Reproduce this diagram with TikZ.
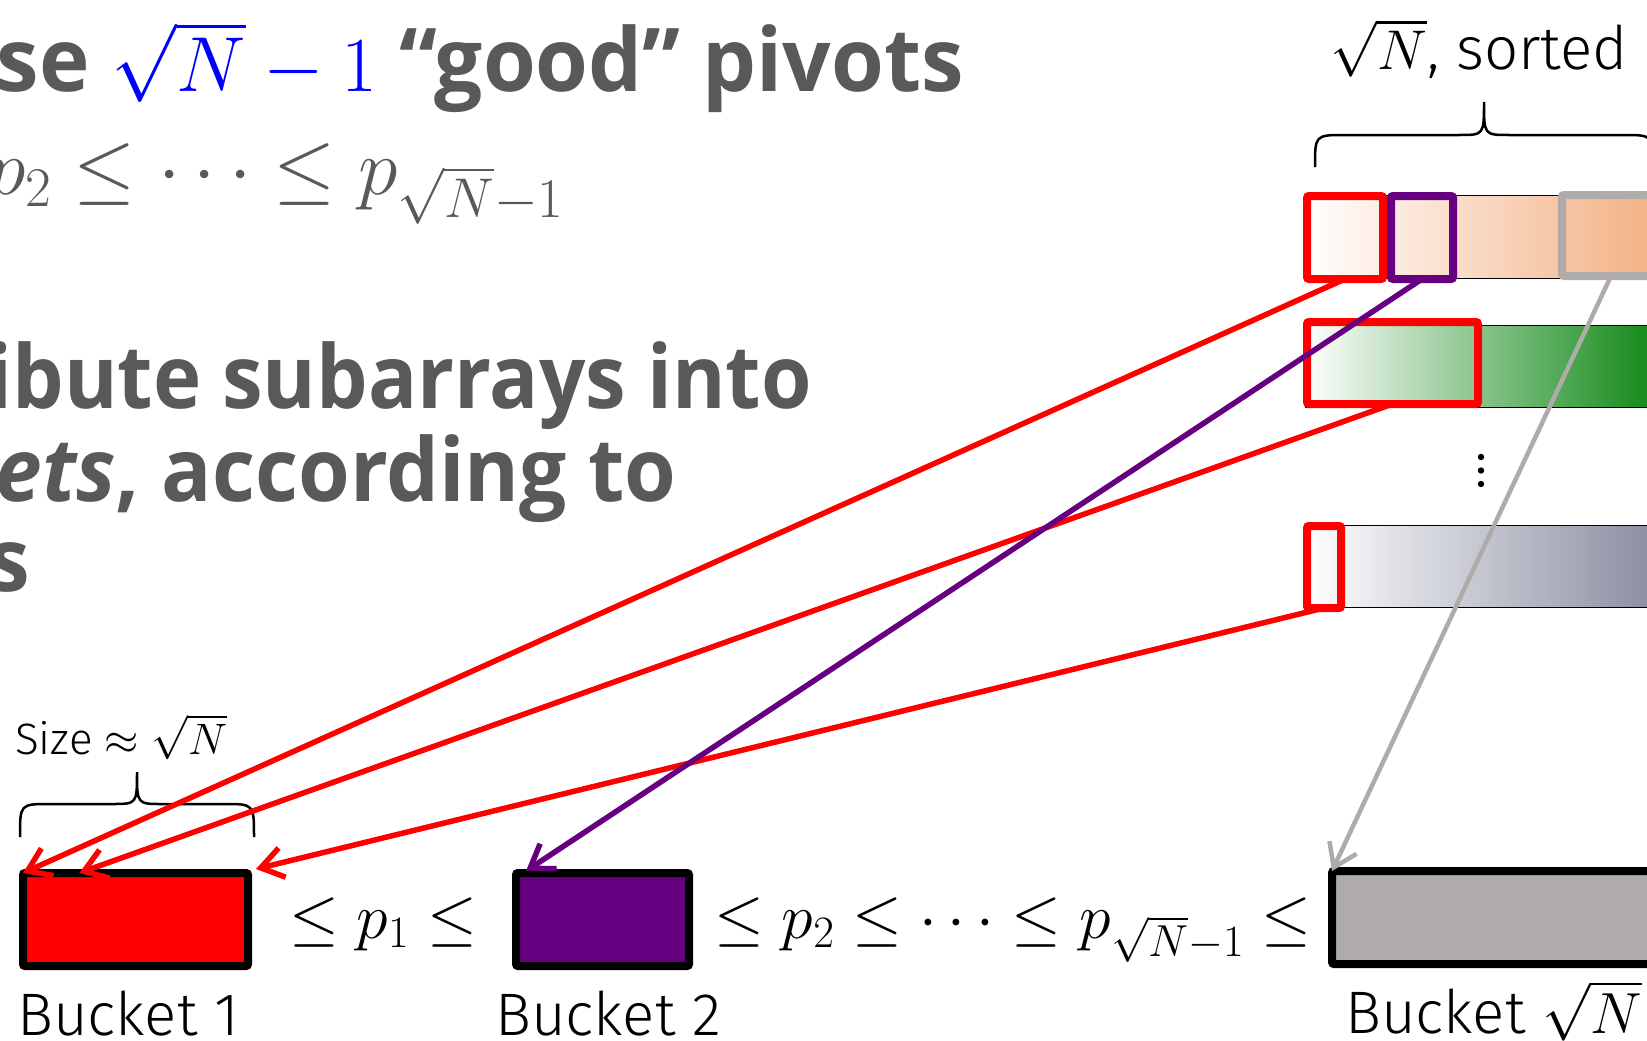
\RequirePackage{fix-cm}
\documentclass[tikz,border=0pt]{standalone}
\usepackage{fontspec}
\usetikzlibrary{arrows.meta,calc}
\newfontfamily\titlefont[FakeStretch=0.95]{Open Sans}
\newfontfamily\titlefontw[FakeStretch=0.97]{Open Sans}
\newfontfamily\titlefontn[FakeStretch=0.927]{Open Sans}
\newfontfamily\lblfont{Fira Sans Light}
\definecolor{tgray}{RGB}{89,89,89}
\definecolor{orng}{RGB}{243,175,130}
\definecolor{grn}{RGB}{14,135,20}
\definecolor{bgray}{RGB}{137,140,160}
\definecolor{purp}{RGB}{102,0,128}
\definecolor{lgray}{RGB}{175,171,171}
\begin{document}
\begin{tikzpicture}[x=1pt,y=-1pt,
  bar/.style={draw=black,line width=1pt},
  selbox/.style={draw,line width=8pt,rounded corners=2pt,inner sep=0pt,outer sep=0pt},
  bucketbox/.style={draw=black,line width=8pt,rounded corners=2pt,inner sep=0pt,outer sep=0pt,minimum height=93pt},
  arr/.style={line width=5.5pt,-{Straight Barb[length=22pt,width=30pt]}},
  brc/.style={line width=2.5pt},
  title/.style={inner sep=0pt,anchor=base east,text=tgray,font=\titlefont\bfseries\fontsize{88}{100}\selectfont},
  lbl/.style={inner sep=0pt,font=\lblfont\fontsize{60}{62}\selectfont},
  mth/.style={inner sep=0pt,anchor=base,font=\fontsize{64}{66}\selectfont},
]
\useasboundingbox (0,0) rectangle (1647,1041);
\clip (0,0) rectangle (1647,1041);

% sorted subarrays
\shade[left color=white,right color=orng] (1305,195) rectangle (1660,278);
\draw[bar] (1305,195) rectangle (1660,278);
\shade[left color=white,right color=grn] (1305,325) rectangle (1660,407);
\draw[bar] (1305,325) rectangle (1660,407);
\shade[left color=white,right color=bgray] (1305,525) rectangle (1660,607);
\draw[bar] (1305,525) rectangle (1660,607);

\fill (1481,457) circle[radius=3.2pt];
\fill (1481,470.5) circle[radius=3.2pt];
\fill (1481,484) circle[radius=3.2pt];

% selection boxes
\node[selbox,draw=red,minimum width=76pt,minimum height=83pt] (s1) at (1345,237.5) {};
\node[selbox,draw=purp,minimum width=62pt,minimum height=83pt] (s2) at (1422,237.5) {};
\node[selbox,draw=lgray,minimum width=98pt,minimum height=81pt] (s3) at (1611,235.5) {};
\node[selbox,draw=red,minimum width=171pt,minimum height=82pt] (s4) at (1392.5,363) {};
\node[selbox,draw=red,minimum width=34pt,minimum height=82pt] (s5) at (1324,567) {};

% buckets
\node[bucketbox,fill=red,minimum width=225pt] (b1) at (135.5,919.5) {};
\node[bucketbox,fill=purp,minimum width=173pt] (b2) at (602.5,919.5) {};
\node[bucketbox,fill=lgray,minimum width=388pt] (b3) at (1526,917.5) {};

% braces
\draw[brc] (1315,167) .. controls (1315,135) and (1315,135) .. (1345,135)
  -- (1459,135) .. controls (1484,135) and (1484,135) .. (1484,102)
  .. controls (1484,135) and (1484,135) .. (1509,135)
  -- (1623,135) .. controls (1653,135) and (1653,135) .. (1653,167);
\draw[brc] (20,837) .. controls (20,804) and (20,804) .. (50,804)
  -- (112,804) .. controls (137,804) and (137,804) .. (137,772)
  .. controls (137,804) and (137,804) .. (162,804)
  -- (224,804) .. controls (254,804) and (254,804) .. (254,837);

% texts
\node[title,font=\titlefontw\bfseries\fontsize{88}{100}\selectfont] (t1) at (964,92) {se \textcolor{blue}{\fontsize{78}{80}\selectfont$\sqrt{N}-1$} “good” pivots};
\node[title,font=\fontsize{80}{82}\selectfont] (t2) at (564,194) {$p_2\le\cdots\le p_{\sqrt{N}-1}$};
\node[title,font=\titlefontn\bfseries\fontsize{88}{100}\selectfont] (t3) at (812,408) {ibute subarrays into};
\node[title] (t4) at (677,501) {\itshape ets\upshape, according to};
\node[title] (t5) at (30,591) {s};

\node[lbl,anchor=base east] (lsorted) at (1628,70) {{\fontsize{56}{58}\selectfont$\sqrt{N}$}, sorted};
\node[lbl,anchor=base west,font=\lblfont\fontsize{44}{46}\selectfont] (lsize) at (15,754) {Size $\approx\sqrt{N}$};

\node[mth] (m1) at (383,938) {$\le p_1\le$};
\node[mth] (m2) at (1013,938) {$\le p_2\le\cdots\le p_{\sqrt{N}-1}\le$};

\node[lbl,anchor=base west] (l1) at (17,1035) {Bucket 1};
\node[lbl,anchor=base west] (l2) at (495,1035) {Bucket 2};
\node[lbl,anchor=base west] (l3) at (1345,1033) {Bucket {\fontsize{58}{60}\selectfont$\sqrt{N}$}};

% arrows
\draw[arr,red] (s1.south) -- (b1.north west);
\draw[arr,red] (s4.south) -- ($(b1.north west)!0.25!(b1.north east)$);
\draw[arr,red] (s5.south) -- ($(b1.north east)+(8,-4)$);
\draw[arr,purp] (s2.south) -- ($(b2.north west)+(10,-2)$);
\draw[arr,lgray,line width=4.5pt] (s3.south) -- (b3.north west);
\end{tikzpicture}
\end{document}
